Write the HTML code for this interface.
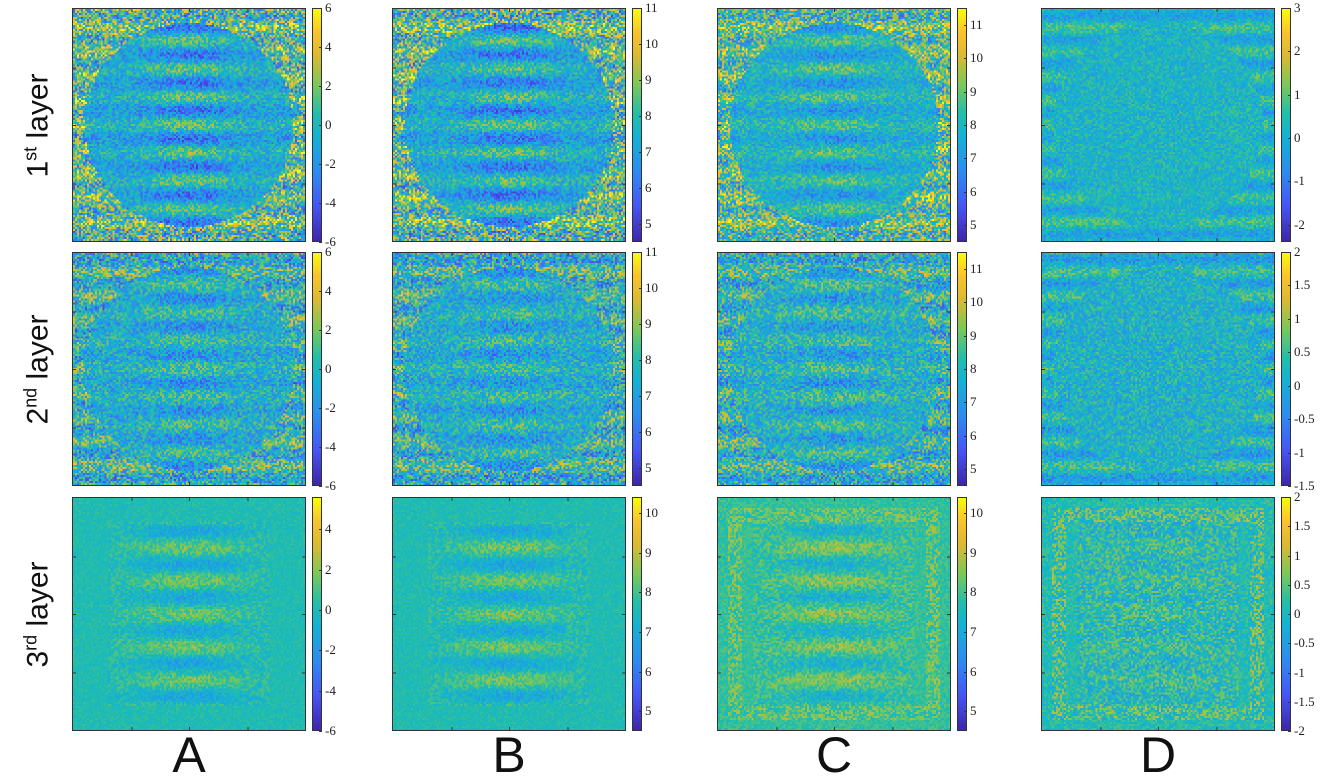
<!DOCTYPE html>
<html><head><meta charset="utf-8">
<style>
body{margin:0;background:#fff;width:1320px;height:782px;position:relative;overflow:hidden;font-family:"Liberation Sans",sans-serif}
.p{position:absolute;border:1px solid #333;box-sizing:border-box}
.p canvas{display:block;width:100%;height:100%;image-rendering:pixelated}
.cb{position:absolute;border:1px solid #333;box-sizing:border-box}
.tl{position:absolute;font-family:"Liberation Serif",serif;font-size:13px;color:#222;line-height:14px}
.col{position:absolute;top:726px;font-size:50px;color:#111;width:234px;text-align:center}
.row{position:absolute;font-size:30px;color:#111;transform:rotate(-90deg);transform-origin:center;white-space:nowrap;width:240px;text-align:center}
.row sup{font-size:18px}
</style></head><body>
<div id="root"></div>
<div class="row" style="left:-82px;top:108px">1<sup>st</sup> layer</div>
<div class="row" style="left:-82px;top:352px">2<sup>nd</sup> layer</div>
<div class="row" style="left:-82px;top:597px">3<sup>rd</sup> layer</div>
<div class="col" style="left:72px">A</div>
<div class="col" style="left:392px">B</div>
<div class="col" style="left:717px">C</div>
<div class="col" style="left:1041px">D</div>
<script>
const colX=[72,392,717,1041];
const rowY=[8,252,497];
const cbMin=[[-6,4.5,4.5,-2.4],[-6,4.5,4.5,-1.5],[-6,4.5,4.5,-2]];
const cbMax=[[6,11,11.5,3],[6,11,11.5,2],[5.6,10.4,10.4,2]];
const cbTicks=[
 [[-6,-4,-2,0,2,4,6],[5,6,7,8,9,10,11],[5,6,7,8,9,10,11],[-2,-1,0,1,2,3]],
 [[-6,-4,-2,0,2,4,6],[5,6,7,8,9,10,11],[5,6,7,8,9,10,11],[-1.5,-1,-0.5,0,0.5,1,1.5,2]],
 [[-6,-4,-2,0,2,4],[5,6,7,8,9,10],[5,6,7,8,9,10],[-2,-1.5,-1,-0.5,0,0.5,1,1.5,2]]];
// texture parameters: base level, edge mean, edge noise, interior noise, band amplitude
const baseLvl=[[0.43,0.43,0.47,0.48],[0.45,0.45,0.47,0.47],[0.53,0.53,0.57,0.53]];
const edgeMean=[[0.58,0.58,0.6,0.48],[0.5,0.5,0.5,0.47],[0.53,0.53,0.62,0.58]];
const edgeNoise=[[0.38,0.38,0.33,0.13],[0.3,0.3,0.28,0.16],[0.05,0.05,0.14,0.2]];
const inNoise=[[0.18,0.18,0.16,0.13],[0.2,0.2,0.2,0.16],[0.1,0.1,0.12,0.18]];
const bandAmp=[[0.2,0.2,0.15,0],[0.12,0.12,0.12,0],[0.13,0.13,0.12,0.04]];
const stops=[[0,62,38,168],[0.15,70,85,245],[0.3,45,140,240],[0.45,20,178,212],[0.55,35,190,170],[0.67,120,200,90],[0.8,220,185,50],[0.9,250,195,45],[1,249,251,14]];
function cmap(t){t=Math.max(0,Math.min(1,t));for(let i=1;i<stops.length;i++){if(t<=stops[i][0]){const a=stops[i-1],b=stops[i],f=(t-a[0])/(b[0]-a[0]);return `rgb(${a[1]+(b[1]-a[1])*f|0},${a[2]+(b[2]-a[2])*f|0},${a[3]+(b[3]-a[3])*f|0})`;}}return 'rgb(249,251,14)';}
function hash(i,j,s){let h=(i*374761393+j*668265263+s*2147483647)|0;h=Math.imul(h^(h>>>13),1274126177);h^=h>>>16;return ((h>>>0)/4294967295)*2-1;}
const root=document.getElementById('root');
const W=234,N=117,cs=2;
for(let r=0;r<3;r++)for(let c=0;c<4;c++){
 const x0=colX[c],y0=rowY[r];
 const p=document.createElement('div');p.className='p';
 
 
 p.style.cssText=`left:${x0}px;top:${y0}px;width:${W}px;height:${W}px`;
 const cv=document.createElement('canvas');cv.width=W;cv.height=W;p.appendChild(cv);
 const ctx=cv.getContext('2d');
 for(let i=0;i<N;i++)for(let j=0;j<N;j++){
  const u=(i+0.5)/N*2-1,v=(j+0.5)/N*2-1;
  const n=hash(i,j,r*4+c+1);
  let val;
  if(r<2){
   const e=(u/0.9)**2+(v/0.88)**2;
   if(e<1){val=baseLvl[r][c]+bandAmp[r][c]*Math.cos(v*26)*(0.6+0.4*Math.cos(u*5))+inNoise[r][c]*n;}
   else{val=edgeMean[r][c]+edgeNoise[r][c]*n+0.1*Math.cos(v*30);}
  }else{
   const m=Math.max(Math.abs(u),Math.abs(v));
   if(m>0.8&&m<0.92){val=edgeMean[r][c]+edgeNoise[r][c]*n;}
   else if(m<=0.8&&Math.abs(u)<0.7){val=baseLvl[r][c]+bandAmp[r][c]*Math.cos(v*22)*(0.5+0.5*Math.cos(u*4))+inNoise[r][c]*n;}
   else{val=baseLvl[r][c]+inNoise[r][c]*0.5*n;}
  }
  ctx.fillStyle=cmap(val);ctx.fillRect(i*cs,j*cs,cs,cs);
 }
 for(let k=1;k<=3;k++){
  ctx.fillStyle='#333';const t=Math.round(W*k/4);
  ctx.fillRect(t,0,1,3);ctx.fillRect(t,W-3,1,3);ctx.fillRect(0,t,3,1);ctx.fillRect(W-3,t,3,1);
 }
 root.appendChild(p);
 const cbx=x0+W+6;
 const cb=document.createElement('div');cb.className='cb';
 
 
 cb.style.cssText=`left:${cbx}px;top:${y0}px;width:10px;height:${W}px;background:linear-gradient(to top,${stops.map(s=>cmap(s[0])+' '+(s[0]*100)+'%').join(',')})`;
 root.appendChild(cb);
 const lo=cbMin[r][c],hi=cbMax[r][c];
 cbTicks[r][c].forEach(t=>{
  const y=y0+W-(t-lo)/(hi-lo)*W;
  const lb=document.createElement('div');lb.className='tl';
  
  
  lb.style.left=(cbx+13)+'px';lb.style.top=(y-7)+'px';lb.textContent=t;
  root.appendChild(lb);
  const tk=document.createElement('div');
  
  
  tk.style.cssText=`position:absolute;left:${cbx+7}px;top:${y}px;width:3px;height:1px;background:#333`;
  root.appendChild(tk);
 });
}
</script>
</body></html>
